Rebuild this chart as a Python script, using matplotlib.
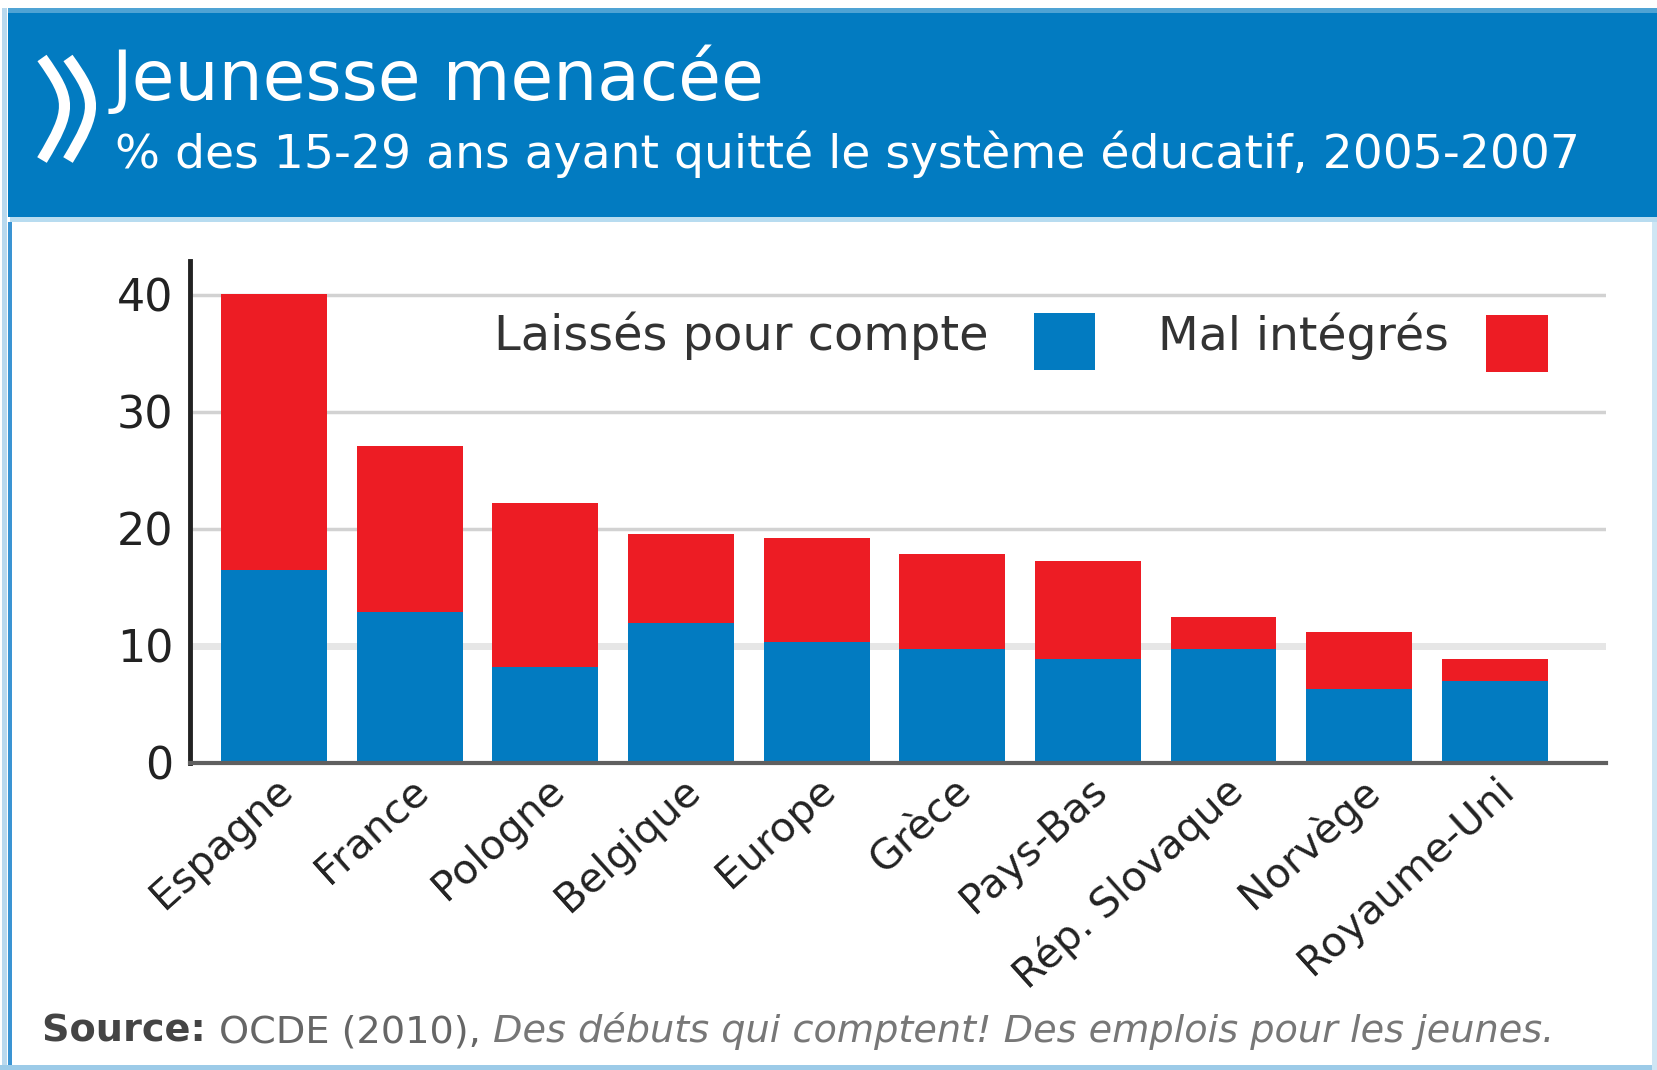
import numpy as np
import matplotlib
matplotlib.use("Agg")
import matplotlib.pyplot as plt
from matplotlib.patches import Rectangle, PathPatch
from matplotlib.path import Path

# données (% des 15-29 ans)
pays = ['Espagne', 'France', 'Pologne', 'Belgique', 'Europe', 'Grèce',
        'Pays-Bas', 'Rép. Slovaque', 'Norvège', 'Royaume-Uni']
laisses = [16.5, 12.9, 8.2, 12.0, 10.3, 9.7, 8.9, 9.7, 6.3, 7.0]
mal_integres = [23.6, 14.2, 14.0, 7.6, 8.9, 8.2, 8.4, 2.8, 4.9, 1.9]
yticks = [0, 10, 20, 30, 40]

bleu = '#027bc1'
rouge = '#ed1c24'
W, H = 1657, 1070

plt.rcParams['font.family'] = ['DejaVu Sans']
fig = plt.figure(figsize=(W / 100, H / 100), dpi=100, facecolor='white')

# fond : bandeau bleu, cadre, logo et textes en coordonnées pixels
bg = fig.add_axes([0, 0, 1, 1])
bg.set_xlim(0, W)
bg.set_ylim(H, 0)
bg.axis('off')
bg.add_patch(Rectangle((8, 8), W - 8, 6, color='#4fa3d4', lw=0))
bg.add_patch(Rectangle((8, 13), W - 8, 204, color=bleu, lw=0))
bg.add_patch(Rectangle((10, 217), W - 10, 5, color='#b8dcf0', lw=0))
bg.add_patch(Rectangle((2, 8), 5, H - 8, color='#b9d9ee', lw=0))
bg.add_patch(Rectangle((8, 222), 4, H - 222, color='#3a94d3', lw=0))
bg.add_patch(Rectangle((0, H - 5), W, 5, color='#9ccbe8', lw=0))
bg.add_patch(Rectangle((W - 5, 222), 5, H - 222, color='#cfe6f4', lw=0))

# logo OCDE (deux chevrons)
for k in range(2):
    x0 = 42 + 26 * k
    p = Path([(x0, 58), (x0 + 30, 100), (x0 + 30, 110), (x0, 160)],
             [Path.MOVETO, Path.CURVE4, Path.CURVE4, Path.CURVE4])
    bg.add_patch(PathPatch(p, fill=False, ec='white', lw=8, capstyle='butt'))

bg.text(112, 100, 'Jeunesse menacée', color='white', fontsize=50,
        ha='left', va='baseline')
bg.text(115, 168, '% des 15-29 ans ayant quitté le système éducatif, 2005-2007',
        color='white', fontsize=34, ha='left', va='baseline')

# légende
bg.text(494, 350, 'Laissés pour compte', color='#333333', fontsize=34.5,
        ha='left', va='baseline')
bg.add_patch(Rectangle((1034, 313), 61, 57, color=bleu, lw=0))
bg.text(1158, 350, 'Mal intégrés', color='#333333', fontsize=34,
        ha='left', va='baseline')
bg.add_patch(Rectangle((1486, 315), 62, 57, color=rouge, lw=0))

# source
t1 = bg.text(42, 1042, 'Source: ', color='#444444', fontsize=27.5,
             fontweight='bold', ha='left', va='baseline')
t2 = bg.annotate('OCDE (2010), ', xy=(1, 0), xycoords=t1, color='#666666',
                 fontsize=27.5, ha='left', va='bottom')
bg.annotate('Des débuts qui comptent! Des emplois pour les jeunes.', xy=(1, 0),
            xycoords=t2, color='#777777', fontsize=27.5, style='italic',
            ha='left', va='bottom')

# graphique principal
ax = fig.add_axes([190 / W, 1 - 763 / H, 1416 / W, 502 / H])
ax.set_facecolor('none')
x = np.arange(len(pays))
ax.bar(x, laisses, width=0.78, color=bleu, zorder=3)
ax.bar(x, mal_integres, width=0.78, bottom=laisses, color=rouge, zorder=3)

ax.set_xlim(-0.62, 9.82)
ax.set_ylim(0, 42.9)
ax.set_yticks(yticks)
ax.set_yticklabels([str(v) for v in yticks], fontsize=32, color='#222222')
ax.set_xticks(x)
ax.set_xticklabels(pays, rotation=42, ha='right', va='top',
                   rotation_mode='anchor', fontsize=29.5, color='#222222')
ax.tick_params(axis='y', length=0, pad=12)
ax.tick_params(axis='x', length=0, pad=5)

ax.yaxis.grid(True, color='#d2d2d2', lw=2.5, zorder=0)
gl = ax.yaxis.get_gridlines()
gl[0].set_visible(False)
gl[1].set_color('#e6e6e6')
gl[1].set_linewidth(5)
ax.set_axisbelow(True)

for s in ['top', 'right']:
    ax.spines[s].set_visible(False)
ax.spines['left'].set_color('#222222')
ax.spines['left'].set_linewidth(3.5)
ax.spines['bottom'].set_color('#5f5f5f')
ax.spines['bottom'].set_linewidth(3)
ax.spines['bottom'].set_zorder(4)

fig.savefig('out.png', dpi=100, facecolor='white')
